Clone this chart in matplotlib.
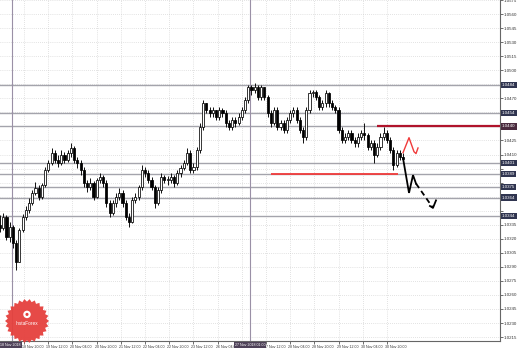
import matplotlib
matplotlib.use("Agg")
import matplotlib.pyplot as plt
import matplotlib.transforms as mtransforms
from matplotlib.patches import Polygon, Circle
import numpy as np

plt.rcParams["font.family"] = ["Liberation Sans", "DejaVu Sans"]

# ---------------- data (H-bars, price) ----------------
opens = [1.0335, 1.0332, 1.0343, 1.0322, 1.0333, 1.0316, 1.0295, 1.0329, 1.0343, 1.0351,
         1.0358, 1.0369, 1.0374, 1.0365, 1.0377, 1.0393, 1.0401, 1.0412, 1.0404, 1.0401,
         1.0410, 1.0404, 1.0412, 1.0417, 1.0404, 1.0401, 1.0393, 1.0380, 1.0375, 1.0380,
         1.0365, 1.0383, 1.0386, 1.0380, 1.0358, 1.0347, 1.0358, 1.0365, 1.0369, 1.0358,
         1.0343, 1.0338, 1.0361, 1.0365, 1.0375, 1.0393, 1.0390, 1.0383, 1.0375, 1.0358,
         1.0372, 1.0386, 1.0383, 1.0383, 1.0386, 1.0380, 1.0390, 1.0396, 1.0401, 1.0412,
         1.0393, 1.0397, 1.0415, 1.0439, 1.0465, 1.0458, 1.0454, 1.0458, 1.0450, 1.0458,
         1.0454, 1.0444, 1.0439, 1.0447, 1.0444, 1.0450, 1.0458, 1.0468, 1.0482, 1.0479,
         1.0482, 1.0471, 1.0482, 1.0471, 1.0454, 1.0444, 1.0458, 1.0439, 1.0444, 1.0436,
         1.0447, 1.0454, 1.0458, 1.0447, 1.0436, 1.0429, 1.0458, 1.0476, 1.0477, 1.0471,
         1.0461, 1.0465, 1.0476, 1.0465, 1.0461, 1.0458, 1.0436, 1.0426, 1.0429, 1.0433,
         1.0426, 1.0422, 1.0429, 1.0433, 1.0431, 1.0418, 1.0422, 1.0410, 1.0418, 1.0429,
         1.0433, 1.0426, 1.0415, 1.0399, 1.0412, 1.0407]
highs = [1.0345, 1.0348, 1.0345, 1.0338, 1.0335, 1.0319, 1.0332, 1.0346, 1.0355, 1.0364,
         1.0372, 1.0381, 1.0377, 1.0380, 1.0397, 1.0404, 1.0417, 1.0415, 1.0410, 1.0415,
         1.0413, 1.0415, 1.0422, 1.0419, 1.0407, 1.0404, 1.0397, 1.0383, 1.0385, 1.0382,
         1.0385, 1.0390, 1.0388, 1.0383, 1.0361, 1.0361, 1.0369, 1.0374, 1.0372, 1.0361,
         1.0348, 1.0365, 1.0369, 1.0377, 1.0399, 1.0397, 1.0393, 1.0386, 1.0377, 1.0375,
         1.0390, 1.0388, 1.0387, 1.0390, 1.0388, 1.0393, 1.0399, 1.0404, 1.0417, 1.0415,
         1.0401, 1.0418, 1.0444, 1.0468, 1.0465, 1.0461, 1.0461, 1.0458, 1.0461, 1.0460,
         1.0458, 1.0447, 1.0450, 1.0450, 1.0454, 1.0461, 1.0471, 1.0484, 1.0484, 1.0486,
         1.0484, 1.0484, 1.0482, 1.0474, 1.0458, 1.0461, 1.0461, 1.0447, 1.0447, 1.0450,
         1.0458, 1.0461, 1.0461, 1.0450, 1.0439, 1.0461, 1.0479, 1.0479, 1.0479, 1.0474,
         1.0468, 1.0479, 1.0477, 1.0468, 1.0463, 1.0461, 1.0439, 1.0433, 1.0436, 1.0436,
         1.0429, 1.0433, 1.0436, 1.0444, 1.0433, 1.0426, 1.0426, 1.0422, 1.0433, 1.0439,
         1.0436, 1.0429, 1.0418, 1.0415, 1.0415, 1.0412]
lows = [1.0327, 1.0329, 1.0319, 1.0317, 1.0310, 1.0287, 1.0295, 1.0327, 1.0340, 1.0348,
        1.0356, 1.0367, 1.0361, 1.0363, 1.0375, 1.0391, 1.0399, 1.0401, 1.0397, 1.0399,
        1.0401, 1.0402, 1.0407, 1.0401, 1.0396, 1.0388, 1.0375, 1.0370, 1.0372, 1.0361,
        1.0364, 1.0380, 1.0375, 1.0354, 1.0343, 1.0345, 1.0354, 1.0361, 1.0354, 1.0340,
        1.0333, 1.0337, 1.0358, 1.0361, 1.0372, 1.0386, 1.0380, 1.0372, 1.0353, 1.0356,
        1.0369, 1.0380, 1.0377, 1.0380, 1.0375, 1.0377, 1.0386, 1.0393, 1.0399, 1.0390,
        1.0390, 1.0393, 1.0412, 1.0436, 1.0454, 1.0450, 1.0450, 1.0447, 1.0447, 1.0450,
        1.0439, 1.0436, 1.0436, 1.0439, 1.0442, 1.0447, 1.0454, 1.0465, 1.0474, 1.0476,
        1.0468, 1.0468, 1.0468, 1.0450, 1.0439, 1.0442, 1.0436, 1.0436, 1.0433, 1.0433,
        1.0444, 1.0450, 1.0444, 1.0433, 1.0422, 1.0426, 1.0454, 1.0471, 1.0468, 1.0458,
        1.0458, 1.0461, 1.0461, 1.0458, 1.0454, 1.0433, 1.0422, 1.0422, 1.0426, 1.0422,
        1.0418, 1.0418, 1.0426, 1.0426, 1.0415, 1.0415, 1.0401, 1.0407, 1.0415, 1.0426,
        1.0422, 1.0412, 1.0393, 1.0397, 1.0404, 1.0402]
closes = [1.0332, 1.0343, 1.0322, 1.0333, 1.0316, 1.0295, 1.0329, 1.0343, 1.0351, 1.0358,
          1.0369, 1.0374, 1.0365, 1.0377, 1.0393, 1.0401, 1.0412, 1.0404, 1.0401, 1.0410,
          1.0404, 1.0412, 1.0417, 1.0404, 1.0401, 1.0393, 1.0380, 1.0375, 1.0380, 1.0365,
          1.0383, 1.0386, 1.0380, 1.0358, 1.0347, 1.0358, 1.0365, 1.0369, 1.0358, 1.0343,
          1.0338, 1.0361, 1.0365, 1.0375, 1.0393, 1.0390, 1.0383, 1.0375, 1.0358, 1.0372,
          1.0386, 1.0383, 1.0383, 1.0386, 1.0380, 1.0390, 1.0396, 1.0401, 1.0412, 1.0393,
          1.0397, 1.0415, 1.0439, 1.0465, 1.0458, 1.0454, 1.0458, 1.0450, 1.0458, 1.0454,
          1.0444, 1.0439, 1.0447, 1.0444, 1.0450, 1.0458, 1.0468, 1.0482, 1.0479, 1.0482,
          1.0471, 1.0482, 1.0471, 1.0454, 1.0444, 1.0458, 1.0439, 1.0444, 1.0436, 1.0447,
          1.0454, 1.0458, 1.0447, 1.0436, 1.0429, 1.0458, 1.0476, 1.0477, 1.0471, 1.0461,
          1.0465, 1.0476, 1.0465, 1.0461, 1.0458, 1.0436, 1.0426, 1.0429, 1.0433, 1.0426,
          1.0422, 1.0429, 1.0433, 1.0431, 1.0418, 1.0422, 1.0410, 1.0418, 1.0429, 1.0433,
          1.0426, 1.0415, 1.0399, 1.0412, 1.0407, 1.0405]

# trading hours counted from 18 Nov 00:00 (weekend removed)
first_bar_hour = 4.13
last_bar_hour = 270.6

tick_hours = [20, 36, 52, 68, 84, 100, 116, 132, 148, 164, 180, 196, 212, 228, 244, 260]
tick_labels = ["18 Nov 20:00", "19 Nov 12:00", "20 Nov 04:00", "20 Nov 20:00",
               "21 Nov 12:00", "22 Nov 04:00", "22 Nov 20:00", "23 Nov 12:00",
               "26 Nov 04:00", "", "27 Nov 12:00", "28 Nov 04:00",
               "28 Nov 20:00", "29 Nov 12:00", "30 Nov 04:00", "30 Nov 20:00"]

# horizontal levels
level_prices = [1.0484, 1.0454, 1.0440, 1.0401, 1.0389, 1.0375, 1.0364, 1.0344]
resistance_price = 1.0440
resistance_from_hour = 253.4
support_price = 1.0389
support_hours = [183.3, 267.3]

# vertical markers
marker_hours = [12.07, 169.4]
marker_labels = ["18 Nov 2018", "27 Nov 2018 01:00"]

# forecast paths
fc_solid_hours = [270.6, 274.55, 277.2, 279.17]
fc_solid_prices = [1.0406, 1.0369, 1.0388, 1.0379]
fc_dash_hours = [279.17, 290.4]
fc_dash_prices = [1.0379, 1.0353]
fc_tip_hours = [288.4, 290.4, 292.4]
fc_tip_prices = [1.0355, 1.0353, 1.0361]
alt_hours = [270.6, 274.55, 277.85, 279.17, 280.5]
alt_prices = [1.0412, 1.0428, 1.0413, 1.0411, 1.0417]

# ---------------- figure ----------------
W, H = 519, 349
fig = plt.figure(figsize=(W / 100, H / 100), dpi=100)
fig.patch.set_facecolor("white")
ax = fig.add_axes([0, 8 / H, 500 / W, 341 / H])
ax.set_facecolor("white")

px_per_hour = 1.5125
x_left = 20 - 24 / px_per_hour
x_right = x_left + 500 / px_per_hour
ax.set_xlim(x_left, x_right)
price_per_px = 0.00010684
y_top = 1.05751
ax.set_ylim(y_top - 341 * price_per_px, y_top)

# grid
y_ticks = np.round(np.arange(1.0215, 1.0576, 0.0015), 4)
ax.set_yticks(y_ticks)
ax.set_xticks(tick_hours)
ax.grid(True, color="#c8c8c8", linestyle=(0, (1, 2)), lw=0.5, zorder=0)

# level lines
for p in level_prices:
    ax.axhline(p, color="#a4a4ac", lw=1.0, zorder=2)
ax.hlines(resistance_price, resistance_from_hour, x_right, color="#b0132b", lw=1.6, zorder=3)
ax.hlines(support_price, support_hours[0], support_hours[1], color="#f03a3a", lw=1.3, zorder=3)
for h in marker_hours:
    ax.axvline(h, color="#9a90a6", lw=0.8, zorder=2)

# candles
o = np.array(opens); c = np.array(closes); hi = np.array(highs); lo = np.array(lows)
bx = np.linspace(first_bar_hour, last_bar_hour, len(closes))
ax.vlines(bx, lo, hi, color="black", lw=0.65, zorder=4)
up = c >= o
body = np.maximum(np.abs(c - o), 0.00004)
bottoms = np.minimum(o, c)
ax.bar(bx[up], body[up], bottom=bottoms[up], width=1.4, color="white",
       edgecolor="black", lw=0.55, zorder=5)
ax.bar(bx[~up], body[~up], bottom=bottoms[~up], width=1.4, color="black",
       edgecolor="black", lw=0.55, zorder=5)

# forecast
ax.plot(fc_solid_hours, fc_solid_prices, color="black", lw=1.3, zorder=6,
        solid_joinstyle="miter")
ax.plot(fc_dash_hours, fc_dash_prices, color="black", lw=1.3, zorder=6,
        linestyle=(0, (3, 2)))
ax.plot(fc_tip_hours, fc_tip_prices, color="black", lw=1.3, zorder=6)
ax.plot(alt_hours, alt_prices, color="#f03a3a", lw=1.0, zorder=6)

# axes styling
for s in ["left", "top"]:
    ax.spines[s].set_visible(False)
ax.spines["right"].set_color("#666666")
ax.spines["bottom"].set_color("#666666")
ax.spines["right"].set_linewidth(0.8)
ax.spines["bottom"].set_linewidth(0.8)
ax.yaxis.tick_right()

# price labels: those hidden behind a level box in the reference are left blank
px_gap = 7 * price_per_px
ylabels = []
for v in y_ticks:
    hidden = any(abs(v - p) < px_gap for p in level_prices)
    ylabels.append("" if hidden else f"{v:.4f}")
ax.set_yticklabels(ylabels)
ax.tick_params(axis="y", length=2, width=0.5, pad=0.8, labelsize=3.2,
               colors="#333333", left=False)
ax.set_xticklabels(tick_labels)
ax.tick_params(axis="x", length=2, width=0.5, pad=1, labelsize=2.6,
               colors="#333333")
off = mtransforms.ScaledTranslation(-2 / 100, 0, fig.dpi_scale_trans)
for lab in ax.get_xticklabels():
    lab.set_horizontalalignment("left")
    lab.set_transform(lab.get_transform() + off)

# level labels on the price axis
ytrans = mtransforms.blended_transform_factory(ax.transAxes, ax.transData)
for p in level_prices:
    fc = "#4a2b3e" if p == resistance_price else "#303550"
    ax.text(1.004, p, f"{p:.4f}", transform=ytrans, fontsize=3.2, color="white",
            va="center", ha="left", clip_on=False, zorder=20,
            bbox=dict(boxstyle="square,pad=0.25", fc=fc, ec="none"))

# date labels of vertical markers
xtrans = mtransforms.blended_transform_factory(ax.transData, ax.transAxes)
ax.text(x_left + 0.3, -0.006, marker_labels[0], transform=xtrans, fontsize=2.6,
        color="white", va="top", ha="left", clip_on=False, zorder=20,
        bbox=dict(boxstyle="square,pad=0.3", fc="#4e4158", ec="none"))
ax.text(marker_hours[1], -0.006, marker_labels[1], transform=xtrans, fontsize=2.6,
        color="white", va="top", ha="center", clip_on=False, zorder=20,
        bbox=dict(boxstyle="square,pad=0.3", fc="#4e4158", ec="none"))

# watermark logo
lax = fig.add_axes([5 / W, 6 / H, 44 / W, 44 / H])
lax.set_xlim(-1, 1); lax.set_ylim(-1, 1); lax.axis("off")
n = 26
ang = np.linspace(0, 2 * np.pi, 2 * n, endpoint=False)
rad = np.where(np.arange(2 * n) % 2 == 0, 1.0, 0.88)
lax.add_patch(Polygon(np.c_[rad * np.cos(ang), rad * np.sin(ang)], closed=True,
                      fc="#e5403d", ec="none", alpha=0.95))
lax.add_patch(Circle((0, 0.3), 0.17, fc="white", ec="none"))
lax.add_patch(Circle((0, 0.3), 0.07, fc="#e5403d", ec="none"))
lax.text(0, -0.1, "InstaForex", ha="center", va="center", fontsize=3.4, color="white")

fig.savefig("out.png", dpi=100, facecolor="white")
